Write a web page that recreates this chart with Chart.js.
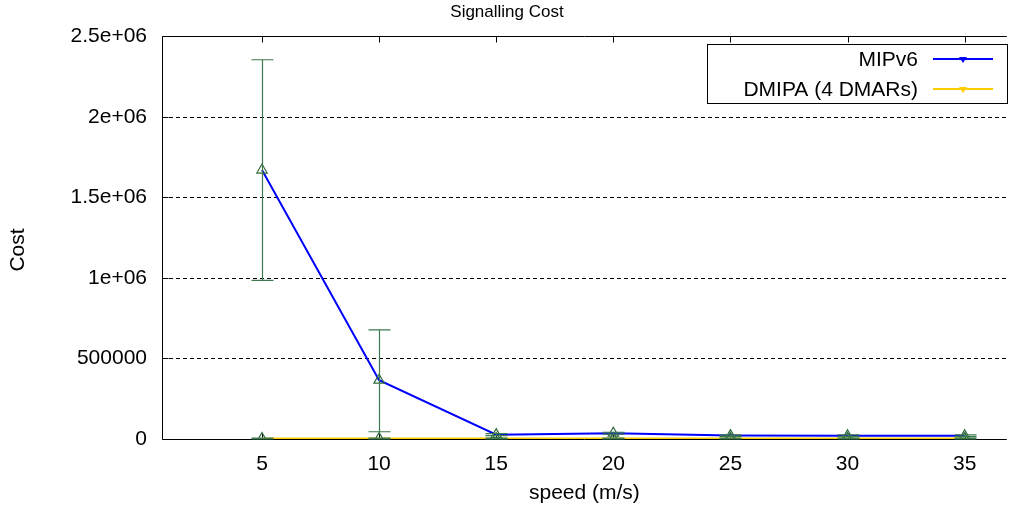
<!DOCTYPE html>
<html>
<head>
<meta charset="utf-8">
<script src="https://cdn.jsdelivr.net/npm/chart.js@4/dist/chart.umd.min.js"></script>
<style>
html,body{margin:0;padding:0;background:#fff;}
#wrap{width:1014px;height:513px;}
</style>
</head>
<body>
<div id="wrap"><canvas id="c" width="1014" height="513"></canvas></div>
<script>
// ---- data ----
const speeds = [5, 10, 15, 20, 25, 30, 35];
const xTickLabels = ['5', '10', '15', '20', '25', '30', '35'];
const mipv6Cost = [1670000, 365000, 27000, 36000, 21000, 20000, 20000];
const mipv6Low  = [985000, 45000, 21000, 30000, 16000, 15000, 15000];
const mipv6High = [2355000, 678000, 33000, 42000, 26000, 25000, 25000];
const dmipaCost = [3000, 3000, 3000, 3000, 3000, 3000, 3000];
const dmipaLow  = [1000, 1000, 1000, 1000, 1000, 1000, 1000];
const dmipaHigh = [5000, 5000, 5000, 5000, 5000, 5000, 5000];
const yTickValues = [0, 500000, 1000000, 1500000, 2000000, 2500000];
const yTickLabels = ['0', '500000', '1e+06', '1.5e+06', '2e+06', '2.5e+06'];
const seriesNames = ['MIPv6', 'DMIPA (4 DMARs)'];
const yAxisTitle = 'Cost';

const FONT = 'Liberation Sans, Arial, Helvetica, sans-serif';
const ERR_COLOR = '#3d7a4e';
const MARK_COLOR = '#2f6a3c';

function pts(vals) { return speeds.map((s, i) => ({x: s, y: vals[i]})); }

const errs = [
  {low: mipv6Low, high: mipv6High},
  {low: dmipaLow, high: dmipaHigh}
];

const framePlugin = {
  id: 'frame',
  beforeDatasetsDraw(chart) {
    const {ctx, chartArea: a, scales: {x, y}} = chart;
    ctx.save();
    // dashed grid
    ctx.strokeStyle = '#000';
    ctx.lineWidth = 1;
    ctx.setLineDash([4, 3]);
    yTickValues.forEach(v => {
      if (v <= 0 || v >= 2500000) return;
      const py = Math.round(y.getPixelForValue(v)) + 0.5;
      ctx.beginPath(); ctx.moveTo(a.left, py); ctx.lineTo(a.right, py); ctx.stroke();
    });
    ctx.setLineDash([]);
    // frame
    const L = Math.round(a.left) + 0.5, T = Math.round(a.top) + 0.5, B = Math.round(a.bottom) + 0.5;
    ctx.beginPath();
    ctx.moveTo(a.right, T); ctx.lineTo(L, T); ctx.lineTo(L, B); ctx.lineTo(a.right, B);
    ctx.stroke();
    // inward ticks
    speeds.forEach(s => {
      const px = Math.round(x.getPixelForValue(s)) + 0.5;
      ctx.beginPath(); ctx.moveTo(px, B); ctx.lineTo(px, B - 6); ctx.stroke();
      ctx.beginPath(); ctx.moveTo(px, T); ctx.lineTo(px, T + 6); ctx.stroke();
    });
    yTickValues.forEach(v => {
      const py = Math.round(y.getPixelForValue(v)) + 0.5;
      ctx.beginPath(); ctx.moveTo(L, py); ctx.lineTo(L + 6, py); ctx.stroke();
    });
    ctx.restore();
  },
  afterDatasetsDraw(chart) {
    const {ctx, scales: {x, y}} = chart;
    ctx.save();
    ctx.strokeStyle = ERR_COLOR;
    ctx.lineWidth = 1.2;
    errs.forEach(e => {
      speeds.forEach((s, i) => {
        const px = Math.round(x.getPixelForValue(s)) + 0.5;
        const yl = y.getPixelForValue(e.low[i]);
        const yh = y.getPixelForValue(e.high[i]);
        ctx.beginPath();
        ctx.moveTo(px, yl); ctx.lineTo(px, yh);
        ctx.moveTo(px - 11, yl); ctx.lineTo(px + 11, yl);
        ctx.moveTo(px - 11, yh); ctx.lineTo(px + 11, yh);
        ctx.stroke();
      });
    });
    ctx.restore();
  },
  afterDraw(chart) {
    const {ctx} = chart;
    ctx.save();
    // y axis title
    ctx.fillStyle = '#000';
    ctx.font = '21px ' + FONT;
    ctx.textAlign = 'center';
    ctx.textBaseline = 'middle';
    ctx.translate(18, 250);
    ctx.rotate(-Math.PI / 2);
    ctx.fillText(yAxisTitle, 0, 0);
    ctx.restore();

    ctx.save();
    // legend box
    ctx.strokeStyle = '#000';
    ctx.lineWidth = 1;
    ctx.strokeRect(707.5, 44.5, 300, 59);
    ctx.font = '21px ' + FONT;
    ctx.textAlign = 'right';
    ctx.textBaseline = 'middle';
    chart.data.datasets.slice(0, 2).forEach((ds, i) => {
      const cy = 59 + i * 30;
      ctx.fillStyle = '#000';
      ctx.fillText(ds.label, 918, cy + 1);
      ctx.strokeStyle = ds.borderColor;
      ctx.lineWidth = 2;
      ctx.beginPath(); ctx.moveTo(933, cy); ctx.lineTo(993, cy); ctx.stroke();
      ctx.fillStyle = ds.borderColor;
      ctx.beginPath(); ctx.moveTo(959, cy - 2); ctx.lineTo(967, cy - 2); ctx.lineTo(963, cy + 4); ctx.closePath(); ctx.fill();
    });
    ctx.restore();
  }
};

new Chart(document.getElementById('c'), {
  type: 'line',
  data: {
    datasets: [
      {
        label: seriesNames[0],
        data: pts(mipv6Cost),
        borderColor: '#0000ff',
        borderWidth: 2,
        pointStyle: 'triangle',
        pointRadius: 6,
        pointBorderColor: MARK_COLOR,
        pointBackgroundColor: 'rgba(0,0,0,0)',
        pointBorderWidth: 1.2,
        tension: 0
      },
      {
        label: seriesNames[1],
        data: pts(dmipaCost),
        borderColor: '#ffcc00',
        borderWidth: 2,
        pointStyle: 'triangle',
        pointRadius: 6,
        pointBorderColor: MARK_COLOR,
        pointBackgroundColor: 'rgba(0,0,0,0)',
        pointBorderWidth: 1.2,
        tension: 0
      }
    ]
  },
  options: {
    responsive: false,
    animation: false,
    layout: {padding: 0},
    plugins: {
      legend: {display: false},
      tooltip: {enabled: false},
      title: {
        display: true,
        text: 'Signalling Cost',
        color: '#000',
        font: {family: FONT, size: 17, weight: 'normal'},
        padding: {top: 2, bottom: 14}
      }
    },
    scales: {
      x: {
        type: 'linear',
        min: 0.73,
        max: 36.8,
        afterBuildTicks(sc) { sc.ticks = speeds.map(v => ({value: v})); },
        afterFit(sc) { sc.height = 74; },
        grid: {display: false, drawTicks: false},
        border: {display: false},
        ticks: {
          color: '#000',
          font: {family: FONT, size: 21},
          padding: 13,
          maxRotation: 0,
          autoSkip: false,
          callback: (v) => xTickLabels[speeds.indexOf(v)]
        },
        title: {
          display: true,
          text: 'speed (m/s)',
          color: '#000',
          font: {family: FONT, size: 21},
          padding: {top: 0, bottom: 7}
        }
      },
      y: {
        type: 'linear',
        min: 0,
        max: 2500000,
        afterBuildTicks(sc) { sc.ticks = yTickValues.map(v => ({value: v})); },
        afterFit(sc) { sc.width = 162; },
        grid: {display: false, drawTicks: false},
        border: {display: false},
        ticks: {
          color: '#000',
          font: {family: FONT, size: 21},
          padding: 15,
          callback: (v) => yTickLabels[yTickValues.indexOf(v)]
        }
      }
    }
  },
  plugins: [framePlugin]
});
</script>
</body>
</html>
